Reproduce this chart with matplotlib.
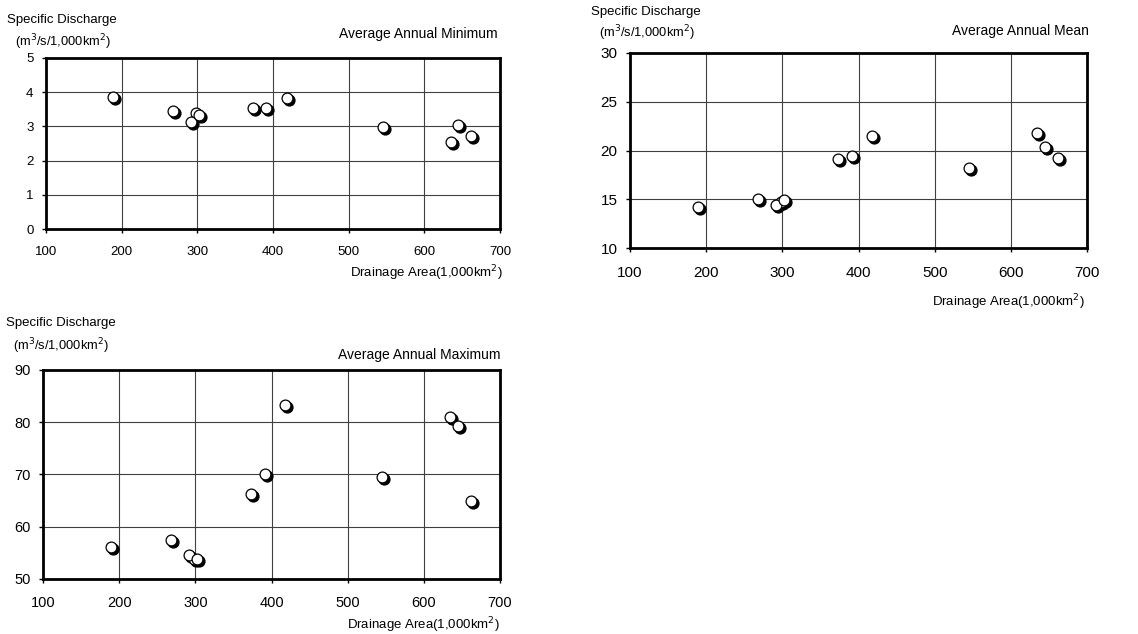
import matplotlib
matplotlib.use("Agg")
import matplotlib.pyplot as plt
from matplotlib.transforms import offset_copy

plt.rcParams['font.family'] = ['Liberation Sans', 'DejaVu Sans']

# drainage area of each basin (1,000 km2)
area = [189, 268, 298, 292, 302, 373, 391, 418, 545, 635, 645, 662]

# specific discharge (m3/s/1,000km2)
q_min = [3.85, 3.44, 3.39, 3.12, 3.34, 3.54, 3.53, 3.83, 2.97, 2.53, 3.03, 2.71]
q_mean = [14.2, 15.0, 14.7, 14.4, 14.9, 19.1, 19.4, 21.5, 18.2, 21.8, 20.4, 19.2]
q_max = [56.1, 57.4, 53.9, 54.5, 53.8, 66.3, 70.1, 83.3, 69.5, 81.1, 79.2, 65.0]

x_ticks = [100, 200, 300, 400, 500, 600, 700]

W, H = 1138, 634
fig = plt.figure(figsize=(W / 100, H / 100), dpi=100)


def px_axes(left, top, right, bottom):
    return fig.add_axes([left / W, 1 - bottom / H, (right - left) / W, (bottom - top) / H])


def px_text(x, y, s, size, ha='left'):
    fig.text(x / W, 1 - y / H, s, fontsize=size, ha=ha, va='center')


def panel(box, y, ylim, ystep, tick_size, xpad, title, label_pos):
    ax = px_axes(*box)
    ax.set_xlim(100, 700)
    ax.set_ylim(*ylim)
    ax.set_xticks(x_ticks)
    ax.set_yticks(list(range(ylim[0], ylim[1] + 1, ystep)))
    ax.grid(True, color='#404040', linewidth=0.8)
    ax.set_axisbelow(True)
    for s in ax.spines.values():
        s.set_linewidth(2.0)
    ax.tick_params(direction='out', length=3, width=1, labelsize=tick_size)
    ax.tick_params(axis='x', pad=xpad)
    ax.tick_params(axis='y', pad=6)

    # dark shadow slightly offset, then the white marker on top
    shadow = offset_copy(ax.transData, fig=fig, x=2.0, y=-2.0, units='dots')
    ax.plot(area, y, 'o', ms=7.8, color='black', transform=shadow, zorder=3,
            clip_on=False)
    ax.plot(area, y, 'o', ms=7.8, mfc='white', mec='black', mew=0.9, zorder=4,
            clip_on=False)

    (sx, sy), (ux, uy), (tx, ty), (lx, ly) = label_pos
    px_text(sx, sy, 'Specific Discharge', 9.5)
    px_text(ux, uy, r'(m$^3$/s/1,000km$^2$)', 9.3)
    px_text(tx, ty, title, 10, ha='right')
    px_text(lx, ly, r'Drainage Area(1,000km$^2$)', 9.5, ha='right')
    return ax


panel((46, 58, 500, 229), q_min, (0, 5), 1, 9.5, 9, 'Average Annual Minimum',
      [(7, 20), (15, 42), (498, 34), (503, 273)])
panel((630, 53, 1087, 248), q_mean, (10, 30), 5, 11, 10, 'Average Annual Mean',
      [(591, 12), (599, 33), (1089, 31), (1085, 302)])
panel((43, 370, 500, 579), q_max, (50, 90), 10, 10.5, 9, 'Average Annual Maximum',
      [(6, 323), (13, 346), (500, 355), (500, 625)])

fig.savefig('out.png', dpi=100)
